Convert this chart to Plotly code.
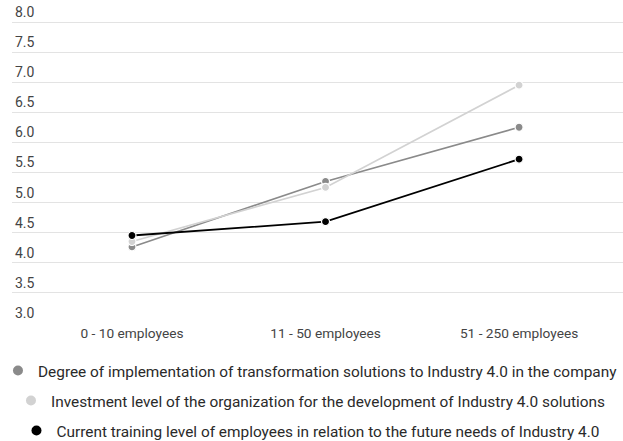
import plotly.graph_objects as go

categories = ["0 - 10 employees", "11 - 50 employees", "51 - 250 employees"]

degree_implementation = [4.26, 5.35, 6.25]
investment_level = [4.35, 5.25, 6.95]
training_level = [4.45, 4.68, 5.72]

series_names = [
    "Degree of implementation of transformation solutions to Industry 4.0 in the company",
    "Investment level of the organization for the development of Industry 4.0 solutions",
    "Current training level of employees in relation to the future needs of Industry 4.0",
]
series_values = [degree_implementation, investment_level, training_level]
series_colors = ["#8a8a8a", "#d2d2d2", "#000000"]
series_widths = [1.6, 1.6, 1.8]
legend_ids = ["legend", "legend2", "legend3"]

fig = go.Figure()

for name, vals, color, lw in zip(series_names, series_values, series_colors, series_widths):
    fig.add_trace(go.Scatter(
        x=categories, y=vals, mode="lines+markers", name=name,
        line=dict(color=color, width=lw),
        marker=dict(color=color, size=8, line=dict(color="white", width=1.2)),
        showlegend=False,
    ))

# legend entries: one centred legend per series, dot only
for name, color, lid in zip(series_names, series_colors, legend_ids):
    fig.add_trace(go.Scatter(
        x=[None], y=[None], mode="markers", name=name,
        marker=dict(color=color, size=10),
        legend=lid, showlegend=True,
    ))

# plot area spans y=4..323 px; legend rows centred at 371, 401, 431 px
plot_top, plot_bottom = 4, 323
plot_h = plot_bottom - plot_top
legend_rows_px = [371, 401, 431]

legend_common = dict(
    xanchor="center", x=0.4885, yanchor="middle",
    font=dict(family="Roboto", size=15.4, color="#2a2a2a"),
    bgcolor="rgba(0,0,0,0)", itemwidth=30, tracegroupgap=0,
)

layout_legends = {}
for lid, py in zip(legend_ids, legend_rows_px):
    layout_legends[lid] = dict(legend_common, y=(plot_bottom - py) / plot_h)

fig.update_layout(
    width=623, height=441,
    margin=dict(l=12, r=0, t=plot_top, b=441 - plot_bottom, autoexpand=False),
    paper_bgcolor="white", plot_bgcolor="white",
    font=dict(family="Roboto", size=13, color="#444444"),
    xaxis=dict(
        type="category", range=[-0.62, 2.537],
        showgrid=False, zeroline=False, showline=False,
        ticks="", tickfont=dict(size=13.7, color="#444444"),
    ),
    yaxis=dict(
        range=[2.995, 8.3], tickvals=[3, 3.5, 4, 4.5, 5, 5.5, 6, 6.5, 7, 7.5, 8],
        tickformat=".1f",
        showgrid=True, gridcolor="#e3e3e3", gridwidth=1,
        zeroline=False, showline=False, ticks="",
        ticklabelposition="inside top", ticklabelstandoff=0,
        tickfont=dict(size=14, color="#444444"),
    ),
    **layout_legends,
)

fig.write_html("out.html")
